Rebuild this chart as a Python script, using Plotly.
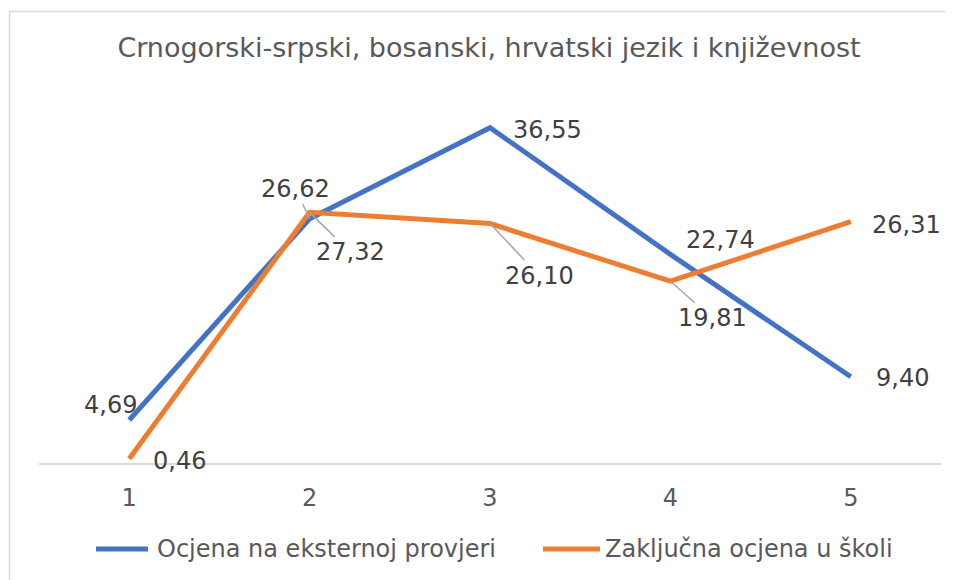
import plotly.graph_objects as go

categories = [1, 2, 3, 4, 5]
tick_labels = ["1", "2", "3", "4", "5"]
series_names = ["Ocjena na eksternoj provjeri", "Zaključna ocjena u školi"]
eksterna = [4.69, 26.62, 36.55, 22.74, 9.40]
zakljucna = [0.46, 27.32, 26.10, 19.81, 26.31]

colors = ["#4472C4", "#ED7D31"]
FONT = "DejaVu Sans"

# label placement: screen-pixel offsets (dx right, dy down) of label centre from its point
blue_offsets = [(-19, -15, False), (-14, -30, True), (57, 2, False), (50, -14, False), (52, 1, False)]
orange_offsets = [(50, 2, False), (41, 40, True), (49, 52, True), (42, 37, True), (56, 3, False)]

# page body has an 8px margin: figure is shrunk by that amount
W, H = 946, 572
L, T = 31, 88
PW, PH = 902, 367

def px2paper_x(px):
    return (px - 8 - L) / PW

def px2paper_y(py):
    return (T + PH - (py - 8)) / PH

fig = go.Figure()
for name, vals, col in zip(series_names, [eksterna, zakljucna], colors):
    fig.add_trace(go.Scatter(
        x=categories, y=vals, mode="lines", name=name,
        line=dict(color=col, width=5), hoverinfo="skip", showlegend=False,
    ))

def fmt(v):
    return f"{v:.2f}".replace(".", ",")

LABEL_FONT = dict(family=FONT, size=24, color="#404040")
annotations = []
for vals, offs in [(eksterna, blue_offsets), (zakljucna, orange_offsets)]:
    for xv, yv, (dx, dy, leader) in zip(categories, vals, offs):
        if leader:
            annotations.append(dict(
                x=xv, y=yv, xref="x", yref="y", text=fmt(yv),
                showarrow=True, ax=dx, ay=dy, arrowhead=0, arrowwidth=1.5,
                arrowcolor="#A6A6A6", standoff=0, font=LABEL_FONT,
            ))
        else:
            annotations.append(dict(
                x=xv, y=yv, xref="x", yref="y", text=fmt(yv),
                showarrow=False, xshift=dx, yshift=-dy, font=LABEL_FONT,
            ))

# legend drawn as sample lines + text (window pixel positions)
legend_items = [(96, 148, 155), (543, 600, 603)]
legend_y = 549
shapes = []
for (x0, x1, tx), name, col in zip(legend_items, series_names, colors):
    shapes.append(dict(type="line", xref="paper", yref="paper",
                       x0=px2paper_x(x0), x1=px2paper_x(x1),
                       y0=px2paper_y(legend_y), y1=px2paper_y(legend_y),
                       line=dict(color=col, width=5)))
    annotations.append(dict(x=px2paper_x(tx), y=px2paper_y(legend_y), xref="paper", yref="paper",
                            text=name, showarrow=False, xanchor="left", yanchor="middle",
                            font=dict(family=FONT, size=24, color="#595959")))

# chart border (top and left edges visible)
bx = px2paper_x(9.5)
by = px2paper_y(11.5)
shapes += [
    dict(type="line", xref="paper", yref="paper", x0=bx, x1=1.05, y0=by, y1=by,
         line=dict(color="#D9D9D9", width=1.5)),
    dict(type="line", xref="paper", yref="paper", x0=bx, x1=bx, y0=by, y1=-0.5,
         line=dict(color="#D9D9D9", width=1.5)),
]

fig.update_layout(
    width=W, height=H,
    margin=dict(l=L, r=W - L - PW, t=T, b=H - T - PH, autoexpand=False),
    paper_bgcolor="white", plot_bgcolor="white",
    font=dict(family=FONT, color="#595959"),
    title=dict(
        text="Crnogorski-srpski, bosanski, hrvatski jezik i književnost",
        x=(489 - 8) / W, xanchor="center", y=1 - (48 - 8) / H, yanchor="middle",
        font=dict(family=FONT, size=27, color="#595959"),
    ),
    xaxis=dict(
        range=[0.5, 5.5], tickmode="array", tickvals=categories, ticktext=tick_labels,
        showgrid=False, zeroline=False, showline=True, linecolor="#D9D9D9", linewidth=2,
        ticks="outside", ticklen=12, tickcolor="rgba(0,0,0,0)",
        tickfont=dict(family=FONT, size=24, color="#595959"),
    ),
    yaxis=dict(range=[0, 40], visible=False),
    showlegend=False,
    annotations=annotations,
    shapes=shapes,
)

fig.write_html("out.html")
